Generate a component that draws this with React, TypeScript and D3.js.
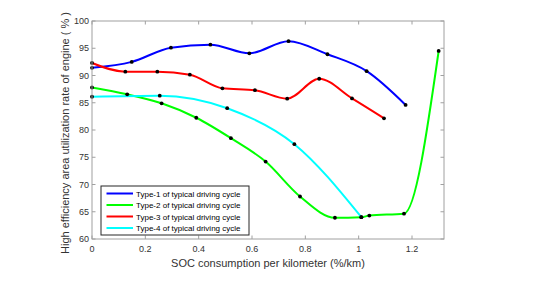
import * as d3 from "d3";

const type1X = [0, 0.149, 0.296, 0.444, 0.59, 0.737, 0.883, 1.03, 1.176];
const type1Y = [91.4, 92.5, 95.1, 95.65, 94.07, 96.3, 93.9, 90.8, 84.6];

const type2X = [0, 0.132, 0.261, 0.391, 0.521, 0.651, 0.78, 0.911, 1.01, 1.04, 1.17, 1.3];
const type2Y = [87.8, 86.55, 84.9, 82.25, 78.5, 74.2, 67.8, 63.9, 64.0, 64.3, 64.65, 94.5];

const type3X = [0, 0.125, 0.245, 0.367, 0.489, 0.611, 0.732, 0.852, 0.975, 1.095];
const type3Y = [92.3, 90.7, 90.7, 90.15, 87.65, 87.3, 85.75, 89.4, 85.8, 82.15];

const type4X = [0, 0.254, 0.507, 0.759, 1.01];
const type4Y = [86.1, 86.3, 84.0, 77.4, 64.0];

const seriesNames = [
  "Type-1 of typical driving cycle",
  "Type-2 of typical driving cycle",
  "Type-3 of typical driving cycle",
  "Type-4 of typical driving cycle",
];
const seriesColors = ["#0000ff", "#00ff00", "#ff0000", "#00ffff"];

const xTicks = [0, 0.2, 0.4, 0.6, 0.8, 1, 1.2];
const yTicks = [60, 65, 70, 75, 80, 85, 90, 95, 100];

export default function App() {
  const width = 558;
  const height = 283;
  const marginLeft = 92;
  const marginRight = 114;
  const marginTop = 21;
  const marginBottom = 44;

  const x = d3.scaleLinear().domain([0, 1.32]).range([marginLeft, width - marginRight]);
  const y = d3.scaleLinear().domain([60, 100]).range([height - marginBottom, marginTop]);

  const series = [
    { xs: type1X, ys: type1Y },
    { xs: type2X, ys: type2Y },
    { xs: type3X, ys: type3Y },
    { xs: type4X, ys: type4Y },
  ];

  // pchip-like smoothing between the measured points
  const line = d3.line<number>().curve(d3.curveMonotoneX);

  const axisColor = "#a0a0a0";
  const textColor = "#333333";
  const font = "Liberation Sans, Arial, sans-serif";

  const x0 = x.range()[0], x1 = x.range()[1];
  const y0 = y.range()[0], y1 = y.range()[1];

  // legend placement
  const lgX = 101, lgY = 186, lgW = 148, lgH = 49, rowH = 11.5;

  return (
    <svg width={width} height={height} style={{ position: "absolute", left: 0, top: 0 }} fontFamily={font}>
      <rect width={width} height={height} fill="white" />
      {/* lines */}
      {series.map((s, k) => (
        <path
          key={k}
          fill="none"
          stroke={seriesColors[k]}
          strokeWidth={2}
          d={line.x((d, i) => x(s.xs[i])).y((d) => y(d))(s.ys) || ""}
        />
      ))}
      {/* markers */}
      {series.map((s, k) => (
        <g key={k} fill="#000">
          {s.xs.map((v, i) => (
            <circle key={i} cx={x(v)} cy={y(s.ys[i])} r={1.9} />
          ))}
        </g>
      ))}
      {/* box */}
      <rect x={x0} y={y1} width={x1 - x0} height={y0 - y1} fill="none" stroke={axisColor} strokeWidth={1} />
      {/* x ticks */}
      {xTicks.map((t) => (
        <g key={t}>
          <line x1={x(t)} x2={x(t)} y1={y0} y2={y0 - 3.5} stroke={axisColor} />
          <line x1={x(t)} x2={x(t)} y1={y1} y2={y1 + 3.5} stroke={axisColor} />
          <text x={x(t)} y={y0 + 13} textAnchor="middle" fontSize={9} fill={textColor}>
            {t}
          </text>
        </g>
      ))}
      {/* y ticks */}
      {yTicks.map((t) => (
        <g key={t}>
          <line x1={x0} x2={x0 + 3.5} y1={y(t)} y2={y(t)} stroke={axisColor} />
          <line x1={x1} x2={x1 - 3.5} y1={y(t)} y2={y(t)} stroke={axisColor} />
          <text x={x0 - 3} y={y(t) + 3.2} textAnchor="end" fontSize={9} fill={textColor}>
            {t}
          </text>
        </g>
      ))}
      {/* axis labels */}
      <text x={(x0 + x1) / 2} y={267} textAnchor="middle" fontSize={11} fill={textColor}>
        SOC consumption per kilometer (%/km)
      </text>
      <text
        transform={`translate(69,133) rotate(-90)`}
        textAnchor="middle"
        fontSize={11}
        fill={textColor}
      >
        High efficiency area utilization rate of engine ( % )
      </text>
      {/* legend */}
      <rect x={lgX} y={lgY} width={lgW} height={lgH} fill="white" stroke="#262626" strokeWidth={1} />
      {seriesNames.map((n, i) => (
        <g key={n}>
          <line
            x1={lgX + 5.5}
            x2={lgX + 32}
            y1={lgY + 7.5 + i * rowH}
            y2={lgY + 7.5 + i * rowH}
            stroke={seriesColors[i]}
            strokeWidth={2}
          />
          <text x={lgX + 35} y={lgY + 10.5 + i * rowH} fontSize={8} fill="#000">
            {n}
          </text>
        </g>
      ))}
    </svg>
  );
}
